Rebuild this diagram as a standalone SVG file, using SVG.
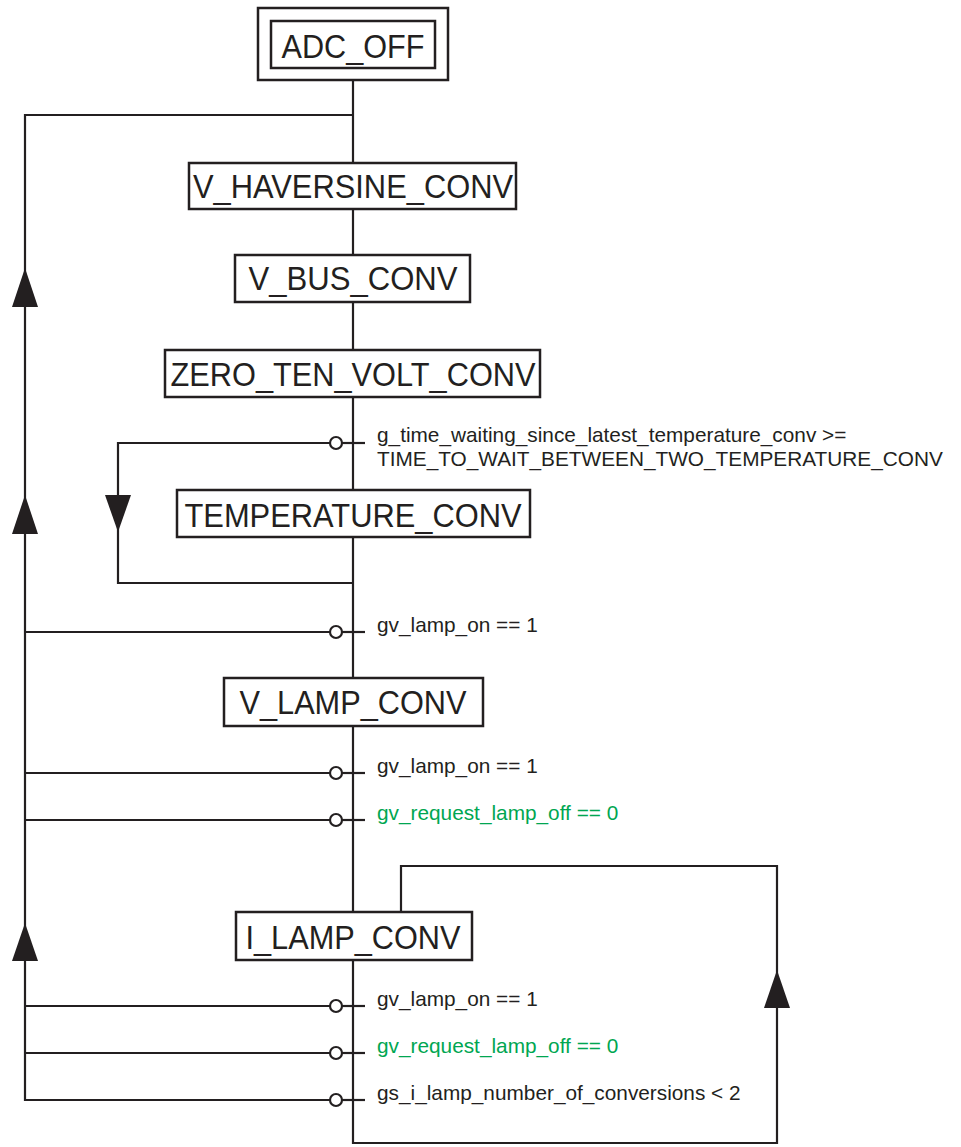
<svg xmlns="http://www.w3.org/2000/svg" width="961" height="1147" viewBox="0 0 961 1147">
<style>
.ln{stroke:#231f20;stroke-width:2.2;fill:none}
.box{fill:#fff;stroke:#231f20;stroke-width:2.5}
.st{font-family:"Liberation Sans",Arial,sans-serif;font-size:32.5px;fill:#231f20;text-anchor:middle}
.cd{font-family:"Liberation Sans",Arial,sans-serif;font-size:20.8px;fill:#231f20}
.gr{fill:#00a651}
.dot{fill:#fff;stroke:#231f20;stroke-width:2.2}
.ah{fill:#231f20}
</style>
<g id="connectors">
<polyline class="ln" points="353,80 353,1143 777,1143 777,866 401,866 401,912"/>
<polyline class="ln" points="353,115 25,115 25,1100 330,1100"/>
<line class="ln" x1="25" y1="632" x2="330" y2="632"/>
<line class="ln" x1="25" y1="773" x2="330" y2="773"/>
<line class="ln" x1="25" y1="820" x2="330" y2="820"/>
<line class="ln" x1="25" y1="1006" x2="330" y2="1006"/>
<line class="ln" x1="25" y1="1053" x2="330" y2="1053"/>
<polyline class="ln" points="330,443 118,443 118,583 353,583"/>
<line class="ln" x1="342" y1="443" x2="365" y2="443"/>
<line class="ln" x1="342" y1="632" x2="365" y2="632"/>
<line class="ln" x1="342" y1="773" x2="365" y2="773"/>
<line class="ln" x1="342" y1="820" x2="365" y2="820"/>
<line class="ln" x1="342" y1="1006" x2="365" y2="1006"/>
<line class="ln" x1="342" y1="1053" x2="365" y2="1053"/>
<line class="ln" x1="342" y1="1100" x2="365" y2="1100"/>
<circle class="dot" cx="336" cy="443" r="6"/>
<circle class="dot" cx="336" cy="632" r="6"/>
<circle class="dot" cx="336" cy="773" r="6"/>
<circle class="dot" cx="336" cy="820" r="6"/>
<circle class="dot" cx="336" cy="1006" r="6"/>
<circle class="dot" cx="336" cy="1053" r="6"/>
<circle class="dot" cx="336" cy="1100" r="6"/>
<polygon class="ah" points="25,268 12,307 38,307"/>
<polygon class="ah" points="25,495 12,534 38,534"/>
<polygon class="ah" points="25,923 12,961 38,961"/>
<polygon class="ah" points="777,970 764,1008 790,1008"/>
<polygon class="ah" points="118,532 105,495 131,495"/>
<text class="cd" x="377" y="442">g_time_waiting_since_latest_temperature_conv &gt;=</text>
<text class="cd" x="377" y="466">TIME_TO_WAIT_BETWEEN_TWO_TEMPERATURE_CONV</text>
<text class="cd" x="377" y="632">gv_lamp_on == 1</text>
<text class="cd" x="377" y="773">gv_lamp_on == 1</text>
<text class="cd gr" x="377" y="820">gv_request_lamp_off == 0</text>
<text class="cd" x="377" y="1006">gv_lamp_on == 1</text>
<text class="cd gr" x="377" y="1053">gv_request_lamp_off == 0</text>
<text class="cd" x="377" y="1100">gs_i_lamp_number_of_conversions &lt; 2</text>
</g>
<g id="ADC_OFF">
<rect class="box" x="258" y="8" width="190" height="72"/>
<rect class="box" x="271" y="21" width="164" height="47"/>
<text class="st" x="353" y="58" textLength="143" lengthAdjust="spacingAndGlyphs">ADC_OFF</text>
</g>
<g id="V_HAVERSINE_CONV">
<rect class="box" x="189" y="163" width="327" height="46"/>
<text class="st" x="353" y="198" textLength="320" lengthAdjust="spacingAndGlyphs">V_HAVERSINE_CONV</text>
</g>
<g id="V_BUS_CONV">
<rect class="box" x="235" y="255" width="235" height="47"/>
<text class="st" x="353" y="290" textLength="209" lengthAdjust="spacingAndGlyphs">V_BUS_CONV</text>
</g>
<g id="ZERO_TEN_VOLT_CONV">
<rect class="box" x="165" y="350" width="375" height="47"/>
<text class="st" x="353" y="386" textLength="365" lengthAdjust="spacingAndGlyphs">ZERO_TEN_VOLT_CONV</text>
</g>
<g id="TEMPERATURE_CONV">
<rect class="box" x="177" y="490" width="353" height="47"/>
<text class="st" x="353" y="527" textLength="337" lengthAdjust="spacingAndGlyphs">TEMPERATURE_CONV</text>
</g>
<g id="V_LAMP_CONV">
<rect class="box" x="224" y="678" width="259" height="48"/>
<text class="st" x="353" y="714" textLength="227" lengthAdjust="spacingAndGlyphs">V_LAMP_CONV</text>
</g>
<g id="I_LAMP_CONV">
<rect class="box" x="236" y="912" width="236" height="48"/>
<text class="st" x="353" y="949" textLength="215" lengthAdjust="spacingAndGlyphs">I_LAMP_CONV</text>
</g>
</svg>
